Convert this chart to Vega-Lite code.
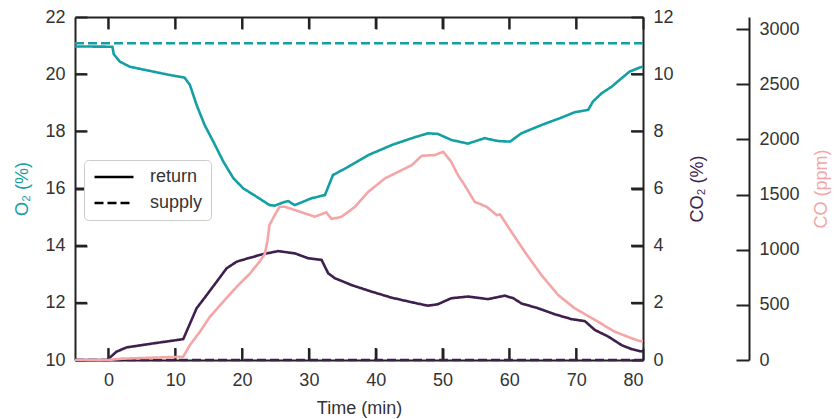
{
  "$schema": "https://vega.github.io/schema/vega-lite/v6.json",
  "autosize": "none",
  "width": 568,
  "height": 343,
  "padding": {"left": 75, "top": 17, "right": 191, "bottom": 59},
  "background": "white",
  "config": {
    "view": {"stroke": null, "fill": null},
    "axis": {
      "labelFont": "Liberation Sans", "labelFontSize": 18, "labelColor": "#333333",
      "titleFont": "Liberation Sans", "titleFontSize": 18, "titleFontWeight": "normal", "titleColor": "#333333",
      "domainColor": "#222222", "domainWidth": 2, "tickColor": "#222222", "tickWidth": 2, "grid": false,
      "ticks": true, "domain": true
    },
    "legend": {"labelFont": "Liberation Sans", "labelFontSize": 18, "labelColor": "#333333"}
  },
  "datasets": {
    "o2": [
      {"t": -5, "v": 20.97, "type": "return"}, {"t": 0.6, "v": 20.96, "type": "return"}, {"t": 0.8, "v": 20.7, "type": "return"},
      {"t": 1.7, "v": 20.44, "type": "return"}, {"t": 3.2, "v": 20.26, "type": "return"}, {"t": 6.7, "v": 20.09, "type": "return"},
      {"t": 9.2, "v": 19.97, "type": "return"}, {"t": 11.4, "v": 19.88, "type": "return"}, {"t": 12.2, "v": 19.62, "type": "return"},
      {"t": 13.2, "v": 18.92, "type": "return"}, {"t": 14.4, "v": 18.22, "type": "return"}, {"t": 15.7, "v": 17.64, "type": "return"},
      {"t": 17.2, "v": 16.94, "type": "return"}, {"t": 18.7, "v": 16.36, "type": "return"}, {"t": 20.2, "v": 16.0, "type": "return"},
      {"t": 22.2, "v": 15.71, "type": "return"}, {"t": 24.1, "v": 15.42, "type": "return"}, {"t": 24.9, "v": 15.4, "type": "return"},
      {"t": 26.0, "v": 15.5, "type": "return"}, {"t": 26.9, "v": 15.56, "type": "return"}, {"t": 27.9, "v": 15.42, "type": "return"},
      {"t": 30.4, "v": 15.66, "type": "return"}, {"t": 32.4, "v": 15.77, "type": "return"}, {"t": 33.6, "v": 16.47, "type": "return"},
      {"t": 35.9, "v": 16.76, "type": "return"}, {"t": 38.9, "v": 17.17, "type": "return"}, {"t": 42.4, "v": 17.52, "type": "return"},
      {"t": 45.4, "v": 17.76, "type": "return"}, {"t": 47.8, "v": 17.93, "type": "return"}, {"t": 49.3, "v": 17.91, "type": "return"},
      {"t": 51.3, "v": 17.7, "type": "return"}, {"t": 53.8, "v": 17.57, "type": "return"}, {"t": 56.3, "v": 17.76, "type": "return"},
      {"t": 58.3, "v": 17.66, "type": "return"}, {"t": 60.1, "v": 17.64, "type": "return"}, {"t": 61.8, "v": 17.93, "type": "return"},
      {"t": 64.8, "v": 18.22, "type": "return"}, {"t": 67.8, "v": 18.48, "type": "return"}, {"t": 69.8, "v": 18.67, "type": "return"},
      {"t": 71.8, "v": 18.75, "type": "return"}, {"t": 72.5, "v": 19.04, "type": "return"}, {"t": 73.8, "v": 19.33, "type": "return"},
      {"t": 75.3, "v": 19.56, "type": "return"}, {"t": 76.8, "v": 19.86, "type": "return"}, {"t": 78.0, "v": 20.09, "type": "return"},
      {"t": 79.5, "v": 20.23, "type": "return"}, {"t": 80, "v": 20.26, "type": "return"},
      {"t": -5, "v": 21.08, "type": "supply"}, {"t": 80, "v": 21.08, "type": "supply"}
    ],
    "co2": [
      {"t": -5, "v": 0, "type": "return"}, {"t": 0, "v": 0, "type": "return"}, {"t": 0.1, "v": 0.06, "type": "return"},
      {"t": 1.2, "v": 0.29, "type": "return"}, {"t": 2.7, "v": 0.44, "type": "return"}, {"t": 6.7, "v": 0.58, "type": "return"},
      {"t": 11.2, "v": 0.73, "type": "return"}, {"t": 11.9, "v": 1.11, "type": "return"}, {"t": 13.2, "v": 1.81, "type": "return"},
      {"t": 14.7, "v": 2.27, "type": "return"}, {"t": 16.2, "v": 2.74, "type": "return"}, {"t": 17.7, "v": 3.21, "type": "return"},
      {"t": 19.2, "v": 3.44, "type": "return"}, {"t": 21.2, "v": 3.58, "type": "return"}, {"t": 23.1, "v": 3.7, "type": "return"},
      {"t": 25.4, "v": 3.81, "type": "return"}, {"t": 27.9, "v": 3.73, "type": "return"}, {"t": 29.9, "v": 3.56, "type": "return"},
      {"t": 31.9, "v": 3.5, "type": "return"}, {"t": 32.9, "v": 3.03, "type": "return"}, {"t": 33.9, "v": 2.86, "type": "return"},
      {"t": 36.4, "v": 2.62, "type": "return"}, {"t": 39.4, "v": 2.39, "type": "return"}, {"t": 42.4, "v": 2.18, "type": "return"},
      {"t": 45.4, "v": 2.02, "type": "return"}, {"t": 47.8, "v": 1.9, "type": "return"}, {"t": 49.3, "v": 1.95, "type": "return"},
      {"t": 51.3, "v": 2.16, "type": "return"}, {"t": 53.8, "v": 2.22, "type": "return"}, {"t": 56.8, "v": 2.13, "type": "return"},
      {"t": 59.3, "v": 2.25, "type": "return"}, {"t": 60.6, "v": 2.16, "type": "return"}, {"t": 61.8, "v": 1.98, "type": "return"},
      {"t": 64.3, "v": 1.81, "type": "return"}, {"t": 66.8, "v": 1.6, "type": "return"}, {"t": 69.3, "v": 1.43, "type": "return"},
      {"t": 71.3, "v": 1.36, "type": "return"}, {"t": 72.8, "v": 1.05, "type": "return"}, {"t": 74.8, "v": 0.82, "type": "return"},
      {"t": 76.8, "v": 0.52, "type": "return"}, {"t": 78.3, "v": 0.38, "type": "return"}, {"t": 79.5, "v": 0.31, "type": "return"},
      {"t": 80, "v": 0.3, "type": "return"},
      {"t": -5, "v": 0, "type": "supply"}, {"t": 80, "v": 0, "type": "supply"}
    ],
    "co": [
      {"t": -5, "v": 0, "type": "return"}, {"t": 0, "v": 0, "type": "return"}, {"t": 2, "v": 12, "type": "return"},
      {"t": 11.2, "v": 30, "type": "return"}, {"t": 12.2, "v": 136, "type": "return"}, {"t": 13.7, "v": 256, "type": "return"},
      {"t": 15.2, "v": 393, "type": "return"}, {"t": 17.2, "v": 529, "type": "return"}, {"t": 19.2, "v": 664, "type": "return"},
      {"t": 21.2, "v": 785, "type": "return"}, {"t": 22.6, "v": 891, "type": "return"}, {"t": 23.4, "v": 960, "type": "return"},
      {"t": 23.8, "v": 1080, "type": "return"}, {"t": 24.1, "v": 1224, "type": "return"}, {"t": 24.9, "v": 1314, "type": "return"},
      {"t": 25.6, "v": 1389, "type": "return"}, {"t": 26.4, "v": 1389, "type": "return"}, {"t": 28.4, "v": 1350, "type": "return"},
      {"t": 30.9, "v": 1299, "type": "return"}, {"t": 32.6, "v": 1339, "type": "return"}, {"t": 33.4, "v": 1278, "type": "return"},
      {"t": 34.9, "v": 1299, "type": "return"}, {"t": 36.9, "v": 1389, "type": "return"}, {"t": 38.9, "v": 1525, "type": "return"},
      {"t": 41.4, "v": 1647, "type": "return"}, {"t": 43.4, "v": 1707, "type": "return"}, {"t": 45.4, "v": 1767, "type": "return"},
      {"t": 46.9, "v": 1852, "type": "return"}, {"t": 48.8, "v": 1858, "type": "return"}, {"t": 50.1, "v": 1888, "type": "return"},
      {"t": 51.3, "v": 1797, "type": "return"}, {"t": 52.3, "v": 1677, "type": "return"}, {"t": 53.3, "v": 1586, "type": "return"},
      {"t": 54.8, "v": 1435, "type": "return"}, {"t": 56.6, "v": 1389, "type": "return"}, {"t": 58.1, "v": 1314, "type": "return"},
      {"t": 58.6, "v": 1320, "type": "return"}, {"t": 60.3, "v": 1163, "type": "return"}, {"t": 62.3, "v": 981, "type": "return"},
      {"t": 64.8, "v": 770, "type": "return"}, {"t": 67.3, "v": 589, "type": "return"}, {"t": 69.8, "v": 468, "type": "return"},
      {"t": 72.8, "v": 363, "type": "return"}, {"t": 75.8, "v": 256, "type": "return"}, {"t": 78.3, "v": 197, "type": "return"},
      {"t": 79.5, "v": 172, "type": "return"}, {"t": 80, "v": 168, "type": "return"}
    ],
    "xticks_bottom": [
      {"t": 0, "v": 10}, {"t": 10, "v": 10}, {"t": 20, "v": 10}, {"t": 30, "v": 10}, {"t": 40, "v": 10},
      {"t": 50, "v": 10}, {"t": 60, "v": 10}, {"t": 70, "v": 10}
    ],
    "xticks_top": [
      {"t": 0, "v": 22}, {"t": 10, "v": 22}, {"t": 20, "v": 22}, {"t": 30, "v": 22}, {"t": 40, "v": 22},
      {"t": 50, "v": 22}, {"t": 60, "v": 22}, {"t": 70, "v": 22}
    ],
    "yticks_left": [
      {"t": -5, "v": 12}, {"t": -5, "v": 14}, {"t": -5, "v": 16}, {"t": -5, "v": 18}, {"t": -5, "v": 20}
    ],
    "yticks_right": [
      {"t": 80, "v": 2}, {"t": 80, "v": 4}, {"t": 80, "v": 6}, {"t": 80, "v": 8}, {"t": 80, "v": 10}
    ]
  },
  "layer": [
    {
      "layer": [
        {
          "data": {"name": "xticks_bottom"},
          "mark": {"type": "tick", "orient": "vertical", "size": 12, "thickness": 2, "color": "#222222", "opacity": 1, "yOffset": -6},
          "encoding": {
            "x": {"field": "t", "type": "quantitative"},
            "y": {"field": "v", "type": "quantitative"}
          }
        },
        {
          "data": {"name": "xticks_top"},
          "mark": {"type": "tick", "orient": "vertical", "size": 12, "thickness": 2, "color": "#222222", "opacity": 1, "yOffset": 6},
          "encoding": {
            "x": {"field": "t", "type": "quantitative"},
            "y": {"field": "v", "type": "quantitative"}
          }
        },
        {
          "data": {"name": "yticks_left"},
          "mark": {"type": "tick", "orient": "horizontal", "size": 12, "thickness": 2, "color": "#222222", "opacity": 1, "xOffset": 6},
          "encoding": {
            "x": {"field": "t", "type": "quantitative"},
            "y": {"field": "v", "type": "quantitative"}
          }
        },
        {
          "data": {"name": "o2"},
          "mark": {"type": "line", "color": "#139fa3", "strokeWidth": 2.6},
          "encoding": {
            "x": {"field": "t", "type": "quantitative", "scale": {"domain": [-5, 80], "nice": false, "zero": false},
              "axis": {"orient": "bottom", "values": [0, 10, 20, 30, 40, 50, 60, 70, 80], "tickSize": -12, "labelPadding": 23, "domain": true, "title": "Time (min)", "titlePadding": 10}},
            "y": {"field": "v", "type": "quantitative", "scale": {"domain": [10, 22], "nice": false, "zero": false},
              "axis": {"orient": "left", "values": [10, 12, 14, 16, 18, 20, 22], "tickSize": -12, "labelPadding": 22, "domain": true, "title": "O₂ (%)", "titleColor": "#139fa3", "titlePadding": 13}},
            "strokeDash": {"field": "type", "type": "nominal",
              "scale": {"domain": ["return", "supply"], "range": [[1, 0], [9, 4]]},
              "legend": {"title": null, "orient": "none", "legendX": 9, "legendY": 143, "symbolType": "M-1,0H5", "symbolSize": 169,
                "symbolStrokeColor": "black", "symbolStrokeWidth": 2.6, "rowPadding": 8, "labelOffset": 40, "padding": 8,
                "strokeColor": "#cccccc", "fillColor": "white", "cornerRadius": 4,
                "encode": {"symbols": {"update": {"stroke": {"value": "black"}}}}}}
          }
        }
      ]
    },
    {
      "layer": [
        {
          "data": {"name": "yticks_right"},
          "mark": {"type": "tick", "orient": "horizontal", "size": 12, "thickness": 2, "color": "#222222", "opacity": 1, "xOffset": -6},
          "encoding": {
            "x": {"field": "t", "type": "quantitative"},
            "y": {"field": "v", "type": "quantitative"}
          }
        },
        {
          "data": {"name": "co2"},
          "mark": {"type": "line", "color": "#3e1f4e", "strokeWidth": 2.6},
          "encoding": {
            "x": {"field": "t", "type": "quantitative",
              "axis": {"orient": "top", "values": [0, 10, 20, 30, 40, 50, 60, 70, 80], "tickSize": -12, "labels": false, "domain": true, "title": null}},
            "y": {"field": "v", "type": "quantitative", "scale": {"domain": [0, 12], "nice": false},
              "axis": {"orient": "right", "values": [0, 2, 4, 6, 8, 10, 12], "tickSize": -12, "labelPadding": 22, "domain": true, "title": "CO₂ (%)", "titleAngle": 270, "titleBaseline": "top", "titleColor": "#3e1f4e", "titlePadding": 15}},
            "strokeDash": {"field": "type", "type": "nominal"}
          }
        }
      ]
    },
    {
      "data": {"name": "co"},
      "mark": {"type": "line", "color": "#f5a5a6", "strokeWidth": 2.6},
      "encoding": {
        "x": {"field": "t", "type": "quantitative", "axis": null},
        "y": {"field": "v", "type": "quantitative", "scale": {"domain": [0, 3110], "nice": false},
          "axis": {"orient": "right", "offset": 106, "values": [0, 500, 1000, 1500, 2000, 2500, 3000], "format": "d", "tickSize": -13, "labelPadding": 23, "domain": true, "title": "CO (ppm)", "titleAngle": 270, "titleBaseline": "top", "titleColor": "#f5a5a6", "titlePadding": 13}},
        "strokeDash": {"field": "type", "type": "nominal"}
      }
    }
  ],
  "resolve": {"scale": {"y": "independent"}, "axis": {"x": "independent"}}
}
